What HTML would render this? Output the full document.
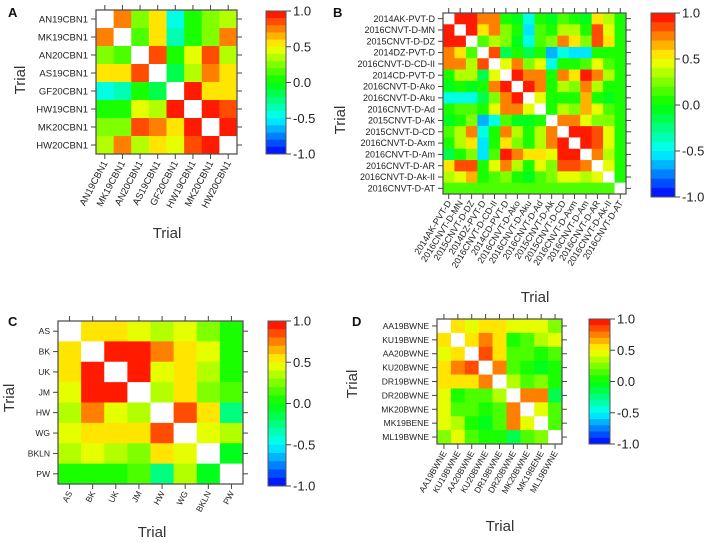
<!DOCTYPE html>
<html><head><meta charset="utf-8">
<style>
html,body{margin:0;padding:0;background:#fff;}
svg{display:block;font-family:"Liberation Sans",Arial,sans-serif;}
</style></head>
<body>
<svg id="fig" width="708" height="543" viewBox="0 0 708 543" xmlns="http://www.w3.org/2000/svg"></svg>
<script>
// ---- Panel A data ----
const labelsA = ["AN19CBN1","MK19CBN1","AN20CBN1","AS19CBN1","GF20CBN1","HW19CBN1","MK20CBN1","HW20CBN1"];
const valuesA = [
 [null,0.75,0.25,0.55,-0.45,0.05,0.2,0.35],
 [0.75,null,0.15,0.55,-0.35,0.05,0.2,0.75],
 [0.25,0.15,null,0.85,0.05,0.45,0.85,0.3],
 [0.55,0.55,0.85,null,-0.2,0.35,0.7,0.55],
 [-0.45,-0.35,0.05,-0.2,null,0.9,0.5,0.5],
 [0.05,0.05,0.45,0.35,0.9,null,0.95,0.85],
 [0.2,0.2,0.85,0.7,0.5,0.95,null,0.95],
 [0.3,0.75,0.3,0.55,0.45,0.85,0.95,null]
];
// ---- Panel B data ----
const labelsB = ["2014AK-PVT-D","2016CNVT-D-MN","2015CNVT-D-DZ","2014DZ-PVT-D","2016CNVT-D-CD-II","2014CD-PVT-D","2016CNVT-D-Ako","2016CNVT-D-Aku","2016CNVT-D-Ad","2015CNVT-D-Ak","2015CNVT-D-CD","2016CNVT-D-Axm","2016CNVT-D-Am","2016CNVT-D-AR","2016CNVT-D-Ak-II","2016CNVT-D-AT"];
const valuesB = [
 [null,1.0,0.9,0.7,0.7,0.05,-0.05,-0.45,0.05,-0.05,0.15,0.05,-0.1,0.55,0.35,0.05],
 [1.0,null,1.0,0.55,0.7,0.25,0.05,-0.55,0.15,0.05,0.35,0.35,0.05,0.8,0.45,0.05],
 [0.9,1.0,null,0.15,0.35,0.25,-0.05,-0.45,0.15,0.2,0.7,0.55,0.2,0.8,0.55,0.05],
 [0.7,0.55,0.15,null,0.8,-0.15,0.05,-0.15,0.05,-0.65,-0.5,-0.6,-0.6,0.05,0.05,0.05],
 [0.7,0.7,0.3,0.8,null,0.45,0.7,0.25,0.45,-0.45,0.05,0.05,0.15,0.45,0.15,0.05],
 [0.05,0.3,0.3,-0.15,0.45,null,0.9,0.7,0.7,0.05,0.7,0.55,0.9,0.7,0.3,0.05],
 [-0.1,0.05,-0.05,0.05,0.7,0.9,null,0.9,0.7,0.05,0.3,0.2,0.7,0.3,0.05,0.05],
 [-0.45,-0.5,-0.45,-0.15,0.25,0.7,0.9,null,0.45,0.05,0.05,0.05,0.6,0.05,-0.05,0.05],
 [0.05,0.15,0.15,0.05,0.45,0.7,0.7,0.45,null,0.05,0.3,0.25,0.6,0.45,0.15,0.05],
 [-0.05,0.05,0.2,-0.65,-0.45,0.15,-0.05,-0.05,0.05,null,0.7,0.7,0.45,0.2,0.2,0.05],
 [0.15,0.35,0.7,-0.5,0.05,0.7,0.35,0.05,0.3,0.7,null,1.0,0.9,0.8,0.45,0.05],
 [0.05,0.35,0.55,-0.6,0.05,0.55,0.2,0.05,0.3,0.7,1.0,null,0.9,0.8,0.45,0.05],
 [-0.15,0.05,0.2,-0.6,0.15,0.9,0.7,0.55,0.55,0.45,0.9,0.9,null,0.7,0.3,0.05],
 [0.55,0.8,0.8,0.05,0.45,0.7,0.3,0.05,0.45,0.2,0.85,0.85,0.7,null,0.45,0.05],
 [0.35,0.45,0.6,0.05,0.15,0.2,0.05,-0.1,0.1,0.2,0.45,0.45,0.3,0.45,null,0.05],
 [0.1,0.1,0.1,0.1,0.1,0.1,0.1,0.1,0.1,0.1,0.15,0.15,0.15,0.1,0.1,null]
];
// ---- Panel C data ----
const labelsC = ["AS","BK","UK","JM","HW","WG","BKLN","PW"];
const valuesC = [
 [null,0.55,0.55,0.45,0.3,0.45,0.2,0.05],
 [0.55,null,1,1,0.7,0.55,0.45,0.05],
 [0.55,1,null,1,0.45,0.55,0.3,0.05],
 [0.45,1,1,null,0.3,0.55,0.2,0.1],
 [0.3,0.7,0.45,0.3,null,0.85,0.55,-0.25],
 [0.45,0.55,0.55,0.55,0.85,null,0.45,0.3],
 [0.3,0.45,0.3,0.2,0.55,0.45,null,-0.1],
 [0.05,0.05,0.05,0.1,-0.25,0.3,-0.1,null]
];
// ---- Panel D data ----
const labelsDy = ["AA19BWNE","KU19BWNE","AA20BWNE","KU20BWNE","DR19BWNE","DR20BWNE","MK20BWNE","MK19BENE","ML19BWNE"];
const labelsDx = ["AA19BWNE","KU19BWNE","AA20BWNE","KU20BWNE","DR19BWNE","DR20BWNE","MK20BWNE","MK19BENE","ML19BWNE"];
const valuesD = [
 [null,0.55,0.45,0.55,0.55,0.45,0.45,0.45,0.2],
 [0.55,null,0.55,0.7,0.55,0.05,0.1,0.3,0.4],
 [0.45,0.55,null,0.85,0.55,0.1,0.1,0.05,0.1],
 [0.55,0.7,0.85,null,0.7,0.1,0.05,-0.05,0.05],
 [0.55,0.55,0.55,0.7,null,0.3,0.1,0.2,0.05],
 [0.45,0.05,0.1,0.1,0.3,null,0.7,0.7,-0.2],
 [0.45,0.1,0.1,0.05,0.1,0.7,null,0.45,0.1],
 [0.45,0.3,0.0,-0.1,0.15,0.7,0.45,null,0.15],
 [0.2,0.45,0.1,0.05,0.05,-0.2,0.1,0.2,null]
];
const colorTicks = [1.0,0.5,0.0,-0.5,-1.0];

const NS = "http://www.w3.org/2000/svg";
const svg = document.getElementById("fig");
function mk(tag, attrs, parent){
  const e = document.createElementNS(NS, tag);
  for (const k in attrs) e.setAttribute(k, attrs[k]);
  (parent||svg).appendChild(e);
  return e;
}
const stops = [[0,0,255],[0,255,255],[0,255,0],[255,255,0],[255,0,0]];
function rampColor(t){
  t = Math.max(0, Math.min(1, t));
  const p = t*4, i = Math.min(3, Math.floor(p)), f = p - i;
  const a = stops[i], b = stops[i+1];
  return "rgb(" + [0,1,2].map(k => Math.round(a[k]+(b[k]-a[k])*f)).join(",") + ")";
}
function binColor(v){
  let idx = Math.floor((v + 1) / 0.1 + 1e-9);
  idx = Math.max(0, Math.min(19, idx));
  return rampColor((idx + 0.5) / 20);
}

function panel(o){
  const g = mk("g", {});
  
  
  const n = o.ylabels.length;
  const cw = (o.x1 - o.x0) / n, ch = (o.y1 - o.y0) / n;
  const xs = i => o.x0 + cw * (i + 0.5);
  const ys = i => o.y0 + ch * (i + 0.5);
  // cells
  o.values.forEach((row, r) => row.forEach((v, c) => {
    const rect = mk("rect", {x: o.x0 + cw*c, y: o.y0 + ch*r, width: cw + 0.3, height: ch + 0.3,
      fill: v === null ? "#ffffff" : binColor(v)}, g);
    
    
  }));
  // frame
  const fr = mk("rect", {x: o.x0, y: o.y0, width: o.x1-o.x0, height: o.y1-o.y0, fill: "none", stroke: "#555", "stroke-width": 1.3}, g);
  
  
  // ticks
  for (let i = 0; i < n; i++) {
    mk("line", {x1: o.x0 - 5, x2: o.x0, y1: ys(i), y2: ys(i), stroke: "#444"}, g);
    mk("line", {x1: o.x1, x2: o.x1 + 5, y1: ys(i), y2: ys(i), stroke: "#444"}, g);
    mk("line", {x1: xs(i), x2: xs(i), y1: o.y0 - 5, y2: o.y0, stroke: "#444"}, g);
    mk("line", {x1: xs(i), x2: xs(i), y1: o.y1, y2: o.y1 + 5, stroke: "#444"}, g);
    const yl = mk("text", {x: o.x0 - 8, y: ys(i) + o.fs*0.35, "text-anchor": "end", "font-size": o.fs, fill: "#222"}, g);
    yl.textContent = o.ylabels[i];
    
    
    const tx = xs(i) + 3, ty = o.y1 + 9;
    const xl = mk("text", {x: tx, y: ty, "text-anchor": "end", "font-size": o.fs, fill: "#222",
      transform: "rotate(" + (-o.rot) + " " + tx + " " + ty + ")"}, g);
    xl.textContent = o.xlabels[i];
    
    
  }
  // colorbar
  const cb = o.cb, nb = 20, bh = (cb.y1 - cb.y0) / nb;
  for (let k = 0; k < nb; k++) {
    const r = mk("rect", {x: cb.x0, y: cb.y0 + bh*k, width: cb.x1 - cb.x0, height: bh + 0.3, fill: rampColor(1 - (k + 0.5)/nb)}, g);
    
    
  }
  mk("rect", {x: cb.x0, y: cb.y0, width: cb.x1-cb.x0, height: cb.y1-cb.y0, fill: "none", stroke: "#555"}, g);
  colorTicks.forEach(t => {
    const y = cb.y0 + (1 - t) / 2 * (cb.y1 - cb.y0);
    mk("line", {x1: cb.x1, x2: cb.x1 + 5, y1: y, y2: y, stroke: "#444"}, g);
    const tl = mk("text", {x: cb.x1 + 7, y: y + 4.5, "font-size": 13, fill: "#222"}, g);
    tl.textContent = t.toFixed(1);
    
    
  });
  // titles
  const xt = mk("text", {x: o.xt[0], y: o.xt[1], "text-anchor": "middle", "font-size": 15, fill: "#333"}, g);
  xt.textContent = "Trial";
  
  
  const yt = mk("text", {x: o.yt[0], y: o.yt[1], "text-anchor": "middle", "font-size": 15, fill: "#333",
    transform: "rotate(-90 " + o.yt[0] + " " + o.yt[1] + ")"}, g);
  yt.textContent = "Trial";
  
  
  const pl = mk("text", {x: o.letter[0], y: o.letter[1], "font-size": 13, "font-weight": "bold", fill: "#111"}, g);
  pl.textContent = o.letterText;
  
  
}

panel({name: "panel-a", x0: 96, x1: 237, y0: 10, y1: 154, ylabels: labelsA, xlabels: labelsA, values: valuesA,
  fs: 9.5, rot: 62, cb: {x0: 266, x1: 286, y0: 11, y1: 154}, xt: [167, 238], yt: [25, 80], letter: [8, 17], letterText: "A"});
panel({name: "panel-b", x0: 443, x1: 626, y0: 13, y1: 194, ylabels: labelsB, xlabels: labelsB, values: valuesB,
  fs: 9, rot: 58, cb: {x0: 651, x1: 675, y0: 13, y1: 197}, xt: [535, 302], yt: [345, 120], letter: [333, 17], letterText: "B"});
panel({name: "panel-c", x0: 58, x1: 243, y0: 321, y1: 484, ylabels: labelsC, xlabels: labelsC, values: valuesC,
  fs: 8.5, rot: 62, cb: {x0: 268, x1: 286, y0: 321, y1: 486}, xt: [152, 537], yt: [14, 398], letter: [8, 326], letterText: "C"});
panel({name: "panel-d", x0: 437, x1: 562, y0: 319, y1: 444, ylabels: labelsDy, xlabels: labelsDx, values: valuesD,
  fs: 8.5, rot: 60, cb: {x0: 589, x1: 610, y0: 319, y1: 444}, xt: [500, 531], yt: [357, 384], letter: [352, 326], letterText: "D"});
</script>
</body></html>
